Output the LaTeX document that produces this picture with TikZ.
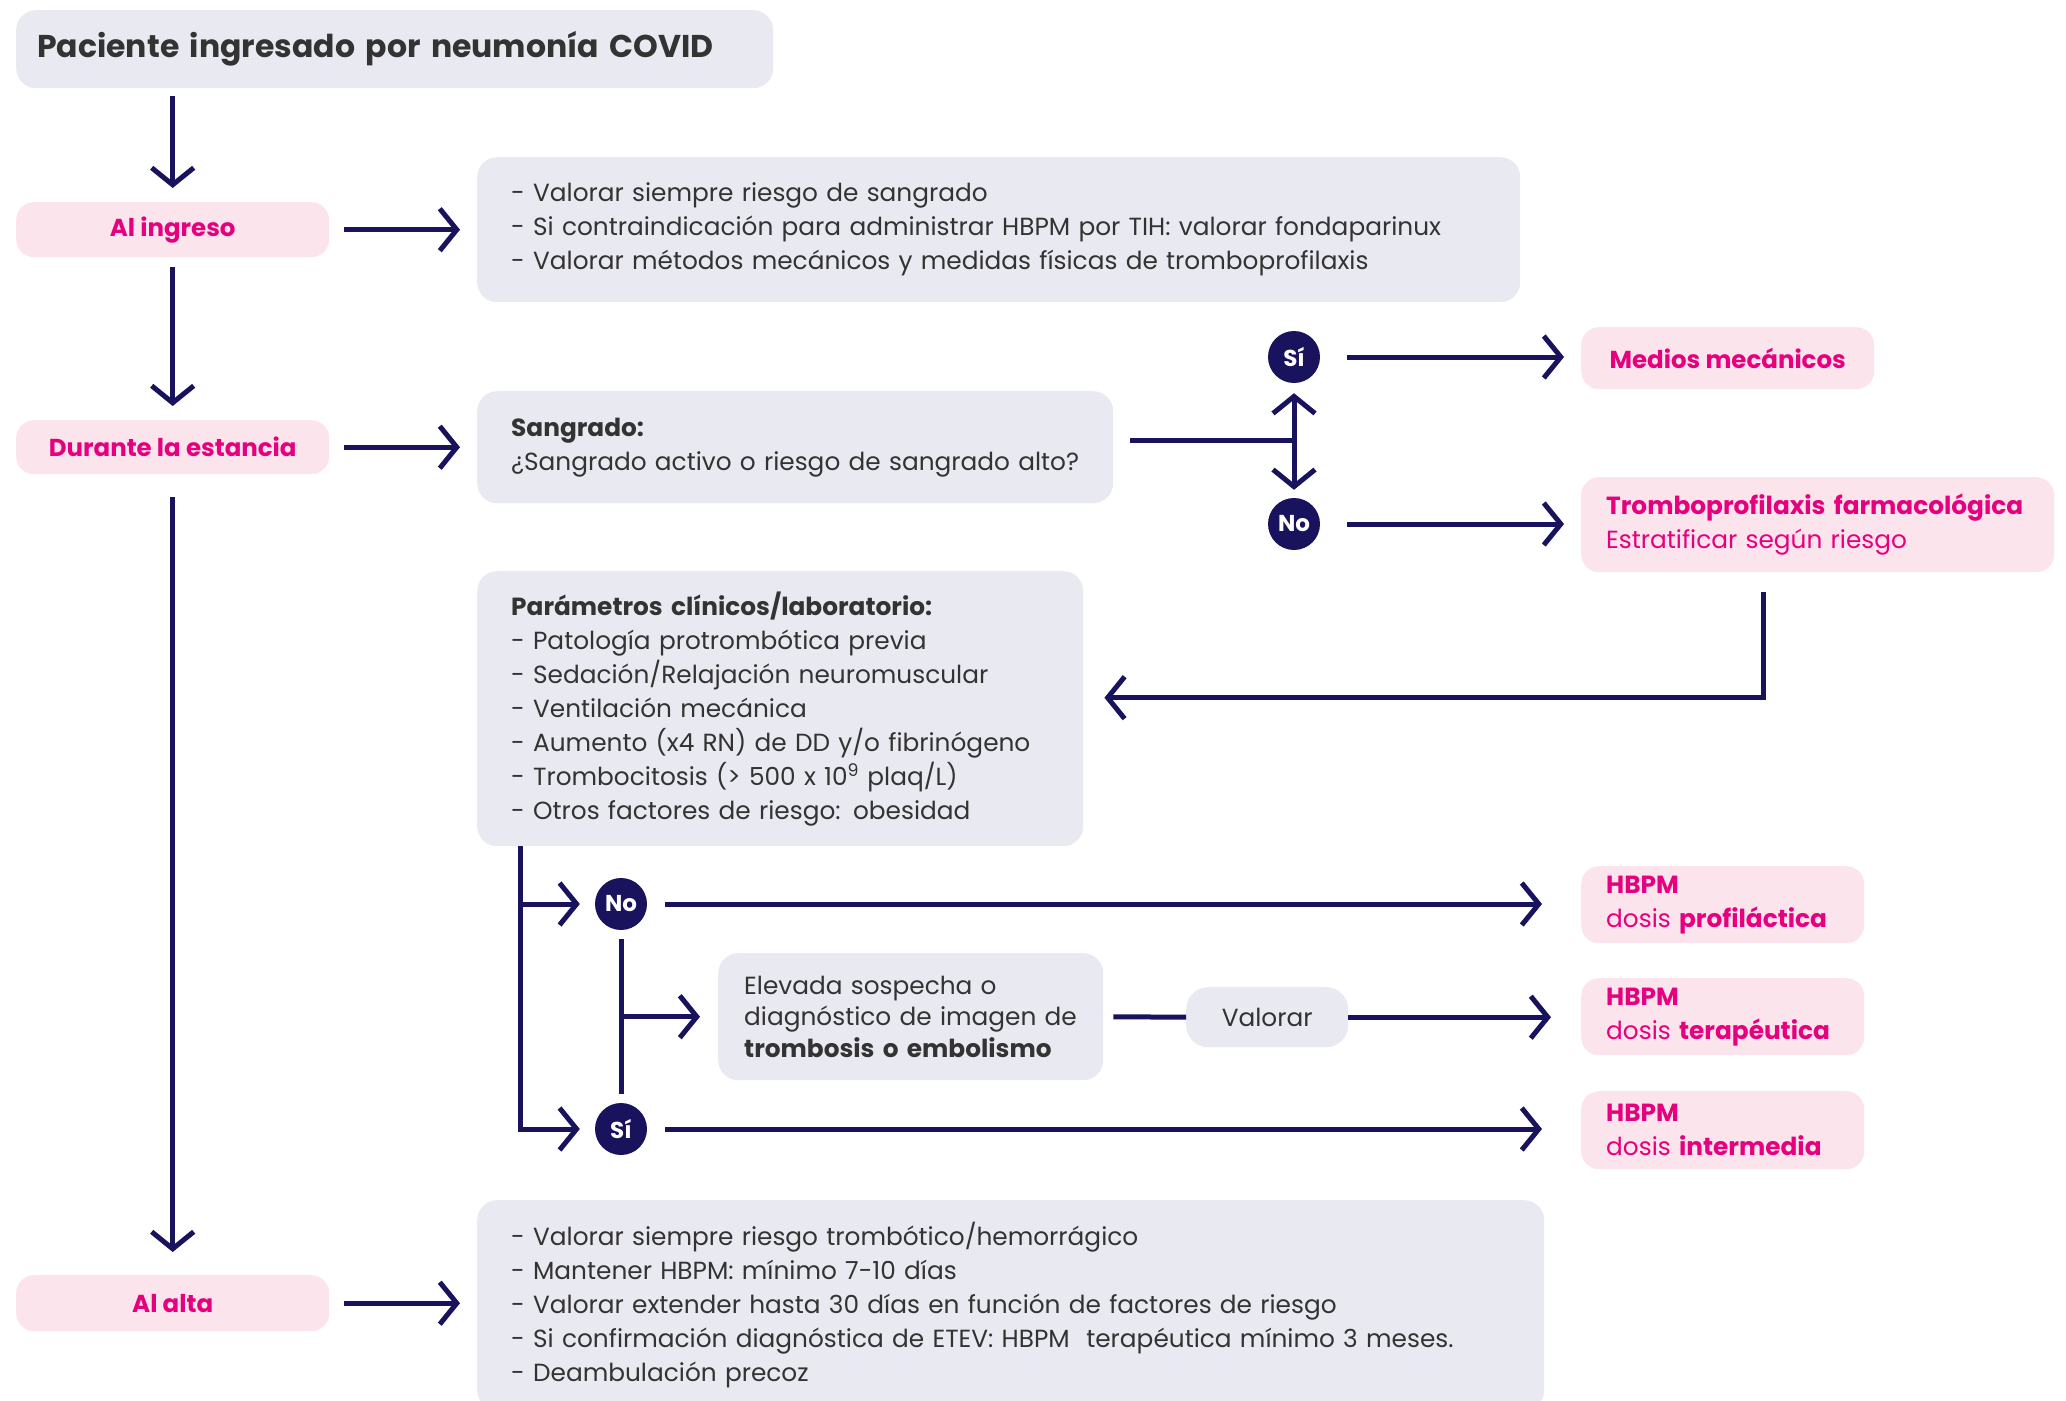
\documentclass[tikz,border=0pt]{standalone}
\usepackage{fontspec}
\setmainfont{Poppins}
\usetikzlibrary{arrows.meta}
\definecolor{navy}{RGB}{25,19,94}
\definecolor{boxgray}{RGB}{233,233,241}
\definecolor{boxpink}{RGB}{252,228,236}
\definecolor{mag}{RGB}{230,0,126}
\definecolor{txt}{RGB}{51,51,51}
\newcommand{\bodyf}{\fontsize{24.8}{34}\selectfont}
\newcommand{\labf}{\fontsize{24.5}{33}\selectfont\bfseries}
\newcommand{\circf}{\fontsize{23}{30}\selectfont\bfseries}
\newcommand{\titf}{\fontsize{31.5}{36}\selectfont\bfseries}
\begin{document}
\begin{tikzpicture}[x=1pt,y=-1pt,
  gbox/.style={fill=boxgray, rounded corners=20pt, anchor=north west, inner xsep=34pt, inner ysep=0pt, align=left, text=txt, font=\bodyf},
  pbox/.style={fill=boxpink, rounded corners=18pt, anchor=north west, inner sep=0pt, text=mag, font=\labf},
  rbox/.style={fill=boxpink, rounded corners=18pt, anchor=north west, inner xsep=25pt, inner ysep=0pt, align=left, text=mag, font=\bodyf},
  circ/.style={circle, fill=navy, text=white, font=\circf, minimum size=52pt, inner sep=0pt},
  arr/.style={draw=navy, line width=5pt, -{Straight Barb[length=17pt,width=42pt]}},
  ln/.style={draw=navy, line width=5pt}]
\clip (0,0) rectangle (2066,1400);
\fill[white] (0,0) rectangle (2066,1400);

% left column
\node[gbox, inner xsep=21pt, text width=715pt, minimum height=78pt, font=\titf] (title) at (16,10) {Paciente ingresado por neumonía COVID};
\node[pbox, minimum width=313pt, minimum height=55pt] (ingreso) at (16,202) {Al ingreso};
\node[pbox, minimum width=313pt, minimum height=54pt] (durante) at (16,420) {Durante la estancia};
\node[pbox, minimum width=313pt, minimum height=56pt] (alta) at (16,1275) {Al alta};

% grey boxes
\node[gbox, text width=975pt, minimum height=145pt] (b1) at (477,157) {- Valorar siempre riesgo de sangrado\\\mbox{- Si contraindicación para administrar HBPM por TIH: valorar fondaparinux}\\- Valorar métodos mecánicos y medidas físicas de tromboprofilaxis};
\node[gbox, text width=568pt, minimum height=112pt] (sang) at (477,391) {\textbf{Sangrado:}\\\mbox{¿Sangrado activo o riesgo de sangrado alto?}};
\node[gbox, text width=538pt, minimum height=275pt] (param) at (477,571) {\textbf{Parámetros clínicos/laboratorio:}\\- Patología protrombótica previa\\- Sedación/Relajación neuromuscular\\- Ventilación mecánica\\\mbox{- Aumento (x4 RN) de DD y/o fibrinógeno}\\- Trombocitosis (> 500 x 10\textsuperscript{9} plaq/L)\\- Otros factores de riesgo: obesidad};
\node[gbox, inner xsep=26pt, text width=333pt, minimum height=127pt, font=\fontsize{24.8}{31.5}\selectfont] (elev) at (718,953) {Elevada sospecha o\\\mbox{diagnóstico de imagen de}\\\mbox{\textbf{trombosis o embolismo}}};
\node[gbox, inner sep=0pt, rounded corners=22pt, minimum width=162pt, minimum height=60pt, align=center] (valorar) at (1186,987) {Valorar};
\node[gbox, text width=999pt, minimum height=210pt] (altab) at (477,1200) {- Valorar siempre riesgo trombótico/hemorrágico\\- Mantener HBPM: mínimo 7-10 días\\- Valorar extender hasta 30 días en función de factores de riesgo\\\mbox{- Si confirmación diagnóstica de ETEV: HBPM\ \ terapéutica mínimo 3 meses.}\\- Deambulación precoz};

% pink result boxes
\node[pbox, minimum width=293pt, minimum height=62pt] (medios) at (1581,327) {Medios mecánicos};
\node[rbox, text width=423pt, minimum height=95pt] (trombo) at (1581,477) {\mbox{\textbf{Tromboprofilaxis farmacológica}}\\Estratificar según riesgo};
\node[rbox, text width=233pt, minimum height=77pt] (hb1) at (1581,866) {\textbf{HBPM}\\\mbox{dosis \textbf{profiláctica}}};
\node[rbox, text width=233pt, minimum height=77pt] (hb2) at (1581,978) {\textbf{HBPM}\\\mbox{dosis \textbf{terapéutica}}};
\node[rbox, text width=233pt, minimum height=78pt] (hb3) at (1581,1091) {\textbf{HBPM}\\\mbox{dosis \textbf{intermedia}}};

% circles
\node[circ] (si1) at (1294,357) {Sí};
\node[circ] (no1) at (1294,524) {No};
\node[circ] (no2) at (621,904) {No};
\node[circ] (si2) at (621,1129) {Sí};

% connectors left column
\draw[arr, shorten >=14pt] ([yshift=-8pt]title.south -| ingreso.north) -- (ingreso.north);
\draw[arr, shorten <=10pt, shorten >=14pt] (ingreso.south) -- (durante.north);
\draw[arr, shorten <=23pt, shorten >=23pt] (durante.south) -- (alta.north);
\draw[arr, shorten <=15pt, shorten >=17pt] (ingreso.east) -- (b1.west |- ingreso.east);
\draw[arr, shorten <=15pt, shorten >=17pt] (durante.east) -- (sang.west |- durante.east);
\draw[arr, shorten <=15pt, shorten >=17pt] (alta.east) -- (altab.west |- alta.east);

% bleeding decision
\coordinate (j1) at ([yshift=7pt]sang.east -| si1);
\draw[ln, shorten <=17pt] ([yshift=7pt]sang.east) -- (j1);
\draw[arr, shorten >=10pt] (j1) -- (si1.south);
\draw[arr, shorten >=8pt] (j1) -- (no1.north);
\draw[arr, shorten <=27pt, shorten >=17pt] (si1.east) -- (medios.west |- si1);
\draw[arr, shorten <=27pt, shorten >=17pt] (no1.east) -- (trombo.west |- no1);
\draw[arr, shorten >=21pt] ([xshift=-54pt,yshift=-20pt]trombo.south) |- ([yshift=11pt]param.east);

% parameter branches
\coordinate (j2) at ([xshift=43pt]param.south west);
\draw[arr, shorten >=15pt] (j2) |- (no2.west);
\draw[arr, shorten >=15pt] (j2) |- (si2.west);
\draw[ln, shorten <=9pt, shorten >=9pt] (no2.south) -- (si2.north);
\draw[arr, shorten >=18pt] (no2 |- elev.west) -- (elev.west);
\draw[arr, shorten <=18pt, shorten >=39pt] (no2.east) -- (hb1.west |- no2);
\draw[ln, shorten <=10pt] (elev.east) -- (valorar.west);
\draw[arr, shorten >=30pt] (valorar.east) -- (hb2.west |- valorar.east);
\draw[arr, shorten <=18pt, shorten >=39pt] (si2.east) -- (hb3.west |- si2);
\end{tikzpicture}
\end{document}
